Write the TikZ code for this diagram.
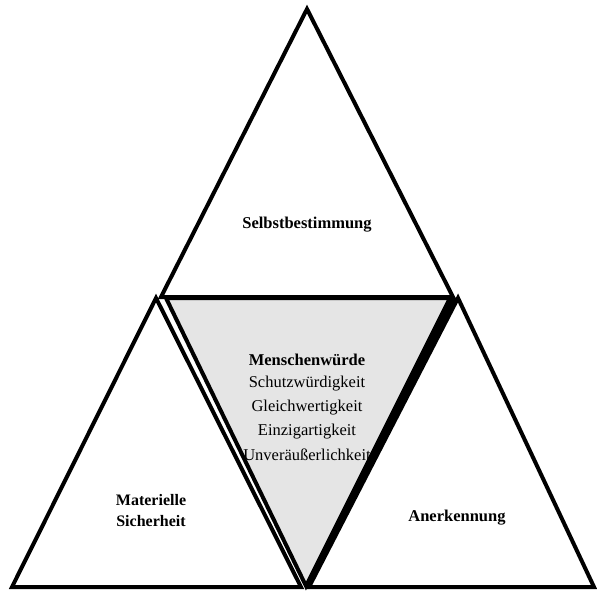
\documentclass[tikz,border=0pt]{standalone}
\usepackage{fontspec}
\setmainfont{Liberation Serif}
\begin{document}
\begin{tikzpicture}[x=1pt,y=-1pt,
  tri/.style={draw=black,line width=4pt,line join=miter},
  lbl/.style={font=\fontsize{16.5}{19}\selectfont\bfseries,align=center},
  txt/.style={font=\fontsize{16.5}{19}\selectfont}]
\useasboundingbox (0,0) rectangle (597,591);
% coordinates
\coordinate (T) at (307,9);
\coordinate (TL) at (161,297);
\coordinate (TR) at (453,297);
\coordinate (LA) at (156,298);
\coordinate (LL) at (12,587);
\coordinate (LR) at (301,587);
\coordinate (RA) at (458,298);
\coordinate (RL) at (309,587);
\coordinate (RR) at (594,587);
\coordinate (CL) at (166,298);
\coordinate (CR) at (450,298);
\coordinate (CB) at (306,586);
% center gray triangle
\fill[black!10] (CL) -- (CR) -- (CB) -- cycle;
% black wedge between center and right triangle
\fill[black] (CR) -- (RA) -- (RL) -- (CB) -- cycle;
% outer triangles
\draw[tri] (T) -- (TR) -- (TL) -- cycle;
\draw[tri] (LA) -- (LR) -- (LL) -- cycle;
\draw[tri] (RA) -- (RR) -- (RL) -- cycle;
% center triangle edges
\draw[tri] (CL) -- (CR) -- (CB) -- cycle;
% texts
\node[lbl] (s) at (307,225) {Selbstbestimmung};
\node[lbl] (m) at (307,360) {Menschenwürde};
\node[txt] (a1) at (307,384) {Schutzwürdigkeit};
\node[txt] (a2) at (307,408) {Gleichwertigkeit};
\node[txt] (a3) at (307,432) {Einzigartigkeit};
\node[txt] (a4) at (307,455) {Unveräußerlichkeit};
\node[lbl,font=\fontsize{16}{21}\selectfont\bfseries] (ms) at (151,511) {Materielle\\Sicherheit};
\node[lbl] (an) at (457,518) {Anerkennung};
\end{tikzpicture}
\end{document}
